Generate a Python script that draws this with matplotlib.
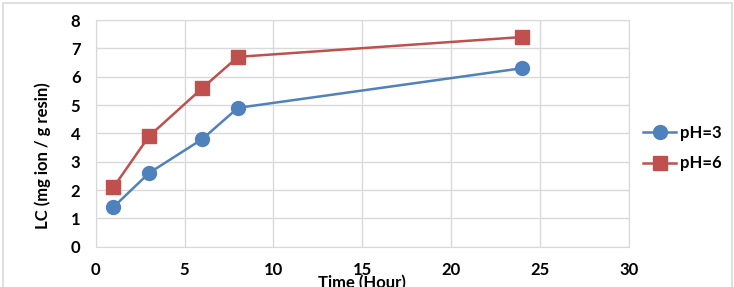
import matplotlib.pyplot as plt
from matplotlib.patches import Rectangle

plt.rcParams['font.family'] = ['Lato', 'DejaVu Sans']
plt.rcParams['font.weight'] = 'bold'

# Data
time_h = [1, 3, 6, 8, 24]
lc_ph3 = [1.4, 2.6, 3.8, 4.9, 6.3]
lc_ph6 = [2.1, 3.9, 5.6, 6.7, 7.4]
labels = ['pH=3', 'pH=6']

c_blue = '#4F81BD'
c_red = '#C0504D'
c_grid = '#D9D9D9'
fs = 12

fig = plt.figure(figsize=(7.34, 2.87), dpi=100)
fig.patches.append(Rectangle((3/734, -0.1), 729/734, 1.1 - 3/287, transform=fig.transFigure,
                             fill=False, ec=c_grid, lw=1.2, zorder=0))
ax = fig.add_axes([0.1304, 0.1404, 0.7266, 0.7899])

ax.plot(time_h, lc_ph3, '-o', color=c_blue, lw=1.8, ms=10, label=labels[0], zorder=3)
ax.plot(time_h, lc_ph6, '-s', color=c_red, lw=1.8, ms=9.5, label=labels[1], zorder=3)

ax.set_xlim(0, 30)
ax.set_ylim(0, 8)
ax.set_xticks(range(0, 31, 5))
ax.set_yticks(range(0, 9))
ax.grid(True, color=c_grid, lw=1)
ax.set_axisbelow(True)
for s in ax.spines.values():
    s.set_color(c_grid)
ax.tick_params(length=0, labelsize=fs, pad=11)
for t in ax.get_xticklabels() + ax.get_yticklabels():
    t.set_fontweight('bold')

ax.set_xlabel('Time (Hour)', fontsize=fs, fontweight='bold')
ax.xaxis.set_label_coords(0.5, -0.125)
ax.set_ylabel('LC (mg ion / g resin)', fontsize=fs, fontweight='bold', va='center')
ax.yaxis.set_label_coords(-0.099, 0.40)

leg = ax.legend(loc='center left', bbox_to_anchor=(0.867, 0.483), bbox_transform=fig.transFigure,
                frameon=False, fontsize=fs, handlelength=2.0, handletextpad=0.2,
                labelspacing=0.85, borderaxespad=0)
for t in leg.get_texts():
    t.set_fontweight('bold')

plt.savefig('out.png', dpi=100)
